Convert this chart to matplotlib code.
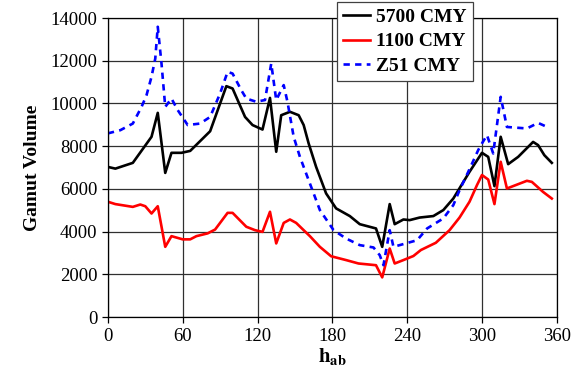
import numpy as np
import matplotlib.pyplot as plt

plt.rcParams['font.family'] = ['Liberation Serif', 'DejaVu Serif']
plt.rcParams['mathtext.fontset'] = 'stix'

# hue angle / gamut volume
h_5700 = [0, 6, 20, 35, 40, 46, 51, 59, 66, 82, 95, 100, 110, 116, 124, 130, 135, 139, 146, 153,
          157, 161, 167, 175, 183, 194, 202, 215, 220, 226, 230, 237, 242, 250, 261, 269, 277,
          290, 300, 305, 310, 315, 321, 329, 341, 345, 350, 356]
v_5700 = [7030, 6950, 7220, 8440, 9560, 6750, 7690, 7690, 7780, 8700, 10810, 10700, 9370, 8990,
          8780, 10260, 7740, 9450, 9610, 9450, 8990, 8130, 7030, 5790, 5090, 4730, 4350, 4150,
          3290, 5290, 4350, 4570, 4540, 4660, 4730, 5010, 5550, 6800, 7690, 7500, 6130, 8440,
          7160, 7500, 8200, 8050, 7580, 7220]

h_1100 = [0, 6, 20, 26, 30, 35, 40, 46, 51, 60, 66, 71, 80, 86, 96, 100, 111, 118, 124, 130,
          135, 141, 146, 151, 157, 162, 170, 179, 191, 201, 215, 220, 226, 230, 237, 245, 251,
          263, 274, 282, 290, 296, 300, 305, 310, 315, 320, 336, 340, 349, 356]
v_1100 = [5400, 5290, 5160, 5270, 5190, 4850, 5190, 3290, 3790, 3640, 3640, 3790, 3920, 4100,
          4880, 4880, 4230, 4070, 3990, 4930, 3450, 4410, 4570, 4410, 4070, 3790, 3290, 2850,
          2670, 2510, 2430, 1860, 3210, 2510, 2670, 2860, 3140, 3480, 4070, 4660, 5400, 6180,
          6650, 6440, 5290, 7270, 6020, 6380, 6330, 5860, 5550]

h_z51 = [0, 10, 20, 27, 31, 35, 38, 40, 43, 46, 51, 56, 64, 74, 82, 90, 96, 100, 107, 111, 119,
         126, 131, 135, 141, 144, 149, 154, 161, 170, 181, 191, 202, 213, 218, 221, 226, 229,
         234, 248, 256, 269, 277, 282, 289, 297, 300, 304, 309, 315, 320, 336, 345, 353]
v_z51 = [8600, 8750, 9060, 9840, 10390, 11250, 12100, 13590, 11870, 9840, 10230, 9690, 8990,
         9060, 9370, 10470, 11480, 11400, 10620, 10230, 10080, 10160, 11870, 10160, 10860,
         10080, 8440, 7500, 6410, 5010, 4070, 3680, 3370, 3260, 2900, 2430, 4070, 3290, 3370,
         3600, 4150, 4620, 5240, 5940, 6800, 7820, 8130, 8520, 7660, 10310, 8900, 8830, 9090,
         8880]

fig = plt.figure(figsize=(5.8, 3.83), dpi=100)
ax = fig.add_axes([0.186, 0.172, 0.774, 0.781])

ax.plot(h_5700, v_5700, color='black', lw=1.9, label='5700 CMY')
ax.plot(h_1100, v_1100, color='red', lw=1.9, label='1100 CMY')
ax.plot(h_z51, v_z51, color='blue', lw=1.9, ls=(0, (2.4, 2.0)), label='Z51 CMY')

ax.set_xlim(0, 360)
ax.set_ylim(0, 14000)
ax.set_xticks(np.arange(0, 361, 60))
ax.set_yticks(np.arange(0, 14001, 2000))
ax.grid(True, color='#303030', lw=0.9)
ax.set_axisbelow(True)
ax.tick_params(labelsize=13.5, direction='out', length=4, width=0.9)
for s in ax.spines.values():
    s.set_linewidth(0.9)

ax.set_xlabel(r'$\mathbf{h_{ab}}$', fontsize=15, labelpad=1)
ax.set_ylabel('Gamut Volume', fontsize=14, fontweight='bold', labelpad=7)

leg = ax.legend(loc='upper left', bbox_to_anchor=(0.511, 1.052), fancybox=False,
                framealpha=1, edgecolor='#404040', handlelength=1.4,
                prop={'size': 14, 'weight': 'bold'}, borderpad=0.3, labelspacing=0.35,
                handletextpad=0.3, borderaxespad=0)
leg.get_frame().set_linewidth(0.9)
leg.set_zorder(5)

fig.savefig('out.png', dpi=100)
